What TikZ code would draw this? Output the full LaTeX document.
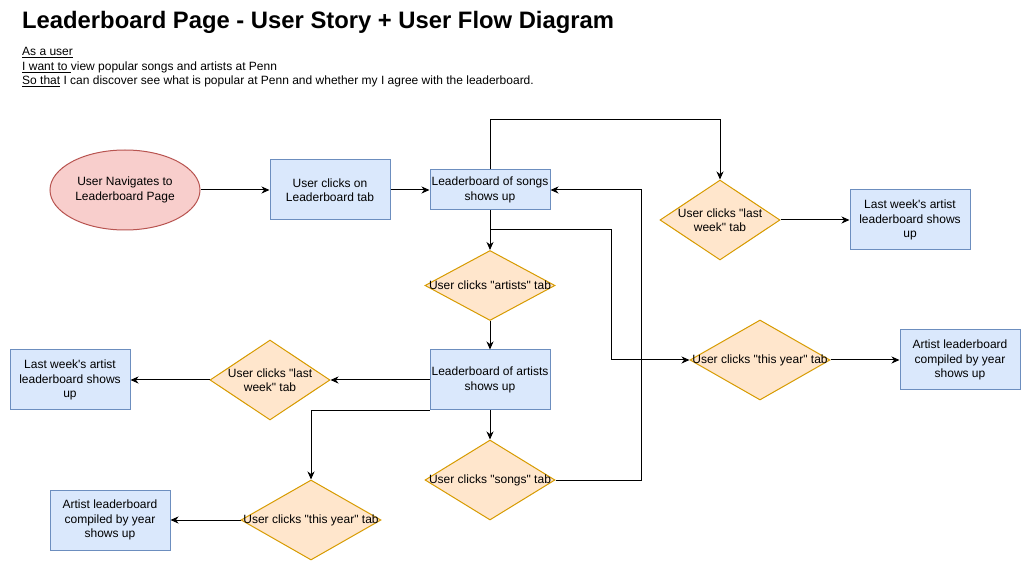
\documentclass[tikz,border=0pt]{standalone}
\usepackage{fontspec}
\setmainfont{Liberation Sans}[Ligatures=TeXOff]
\usetikzlibrary{shapes.geometric,arrows.meta}
\definecolor{bfill}{HTML}{DAE8FC}
\definecolor{bline}{HTML}{6C8EBF}
\definecolor{ofill}{HTML}{FFE6CC}
\definecolor{oline}{HTML}{D79B00}
\definecolor{rfill}{HTML}{F8CECC}
\definecolor{rline}{HTML}{B85450}
\tikzset{
  txt/.style={font=\fontsize{12}{14.4}\selectfont, align=center},
  bluebox/.style={txt, rectangle, draw=bline, fill=bfill, line width=1pt, inner sep=0pt, minimum width=120pt, minimum height=60pt},
  dia/.style={diamond, draw=oline, fill=ofill, line width=1pt, inner sep=0pt},
  startell/.style={txt, ellipse, draw=rline, fill=rfill, line width=1pt, inner sep=0pt, minimum width=150pt, minimum height=80pt},
  arr/.style={line width=1pt, -{Stealth[length=8pt,width=7pt,inset=2.5pt]}},
  plain/.style={line width=1pt},
  storyline/.style={font=\fontsize{12}{14.4}\selectfont, anchor=base west, inner sep=0pt},
}
\begin{document}
\begin{tikzpicture}[x=1pt,y=-1pt]
\fill[white] (0,0) rectangle (1021,561);
\useasboundingbox (0,0) rectangle (1021,561);

% title and story
\node[anchor=base west, inner sep=0pt, font=\bfseries\fontsize{23.8}{28}\selectfont] (title) at (22,28.5) {Leaderboard Page - User Story + User Flow Diagram};
\node[storyline] (s1) at (22,56) {\underline{As a user}};
\node[storyline] (s2) at (22,70.5) {\underline{I want to }view popular songs and artists at Penn};
\node[storyline] (s3) at (22,85) {\underline{So that} I can discover see what is popular at Penn and whether my I agree with the leaderboard.};

% nodes
\node[startell] (start) at (125,190) {User Navigates to\\Leaderboard Page};
\node[bluebox] (tab) at (330,190) {User clicks on\\Leaderboard tab};
\node[bluebox, minimum height=40pt] (songs) at (490,190) {Leaderboard of songs\\shows up};
\node[dia, minimum width=120pt, minimum height=80pt, label={[txt]center:User clicks "last\\week" tab}] (dlwA) at (720,220) {};
\node[bluebox] (lwA) at (910,220) {Last week's artist\\leaderboard shows\\up};
\node[dia, minimum width=130pt, minimum height=70pt, label={[txt]center:User clicks "artists" tab}] (dart) at (490,285.5) {};
\node[dia, minimum width=140pt, minimum height=80pt, label={[txt]center:User clicks "this year" tab}] (dtyA) at (760,360) {};
\node[bluebox] (tyA) at (960,360) {Artist leaderboard\\compiled by year\\shows up};
\node[bluebox] (artists) at (490,380) {Leaderboard of artists\\shows up};
\node[dia, minimum width=120pt, minimum height=80pt, label={[txt]center:User clicks "last\\week" tab}] (dlwB) at (270,380) {};
\node[bluebox] (lwB) at (70,380) {Last week's artist\\leaderboard shows\\up};
\node[dia, minimum width=130pt, minimum height=80pt, label={[txt]center:User clicks "songs" tab}] (dsongs) at (490,480) {};
\node[dia, minimum width=140pt, minimum height=80pt, label={[txt]center:User clicks "this year" tab}] (dtyB) at (311,520) {};
\node[bluebox] (tyB) at (110,520) {Artist leaderboard\\compiled by year\\shows up};

\coordinate (branch) at (490,230);

% connectors
\draw[arr] (start.east) -- (tab.west);
\draw[arr] (tab.east) -- (songs.west);
\draw[arr] (songs.north) -- ++(0,-50) -| (dlwA.north);
\draw[arr] (dlwA.east) -- (lwA.west);
\draw[arr] (songs.south) -- (dart.north);
\draw[arr] (branch) -- ++(121,0) |- (dtyA.west);
\draw[arr] (dtyA.east) -- (tyA.west);
\draw[arr] (dart.south) -- (artists.north);
\draw[arr] (artists.west) -- (dlwB.east);
\draw[arr] (dlwB.west) -- (lwB.east);
\draw[arr] (artists.south west) -| (dtyB.north);
\draw[arr] (dtyB.west) -- (tyB.east);
\draw[arr] (artists.south) -- (dsongs.north);
\draw[arr] (dsongs.east) -- ++(86,0) |- (songs.east);
\end{tikzpicture}
\end{document}
